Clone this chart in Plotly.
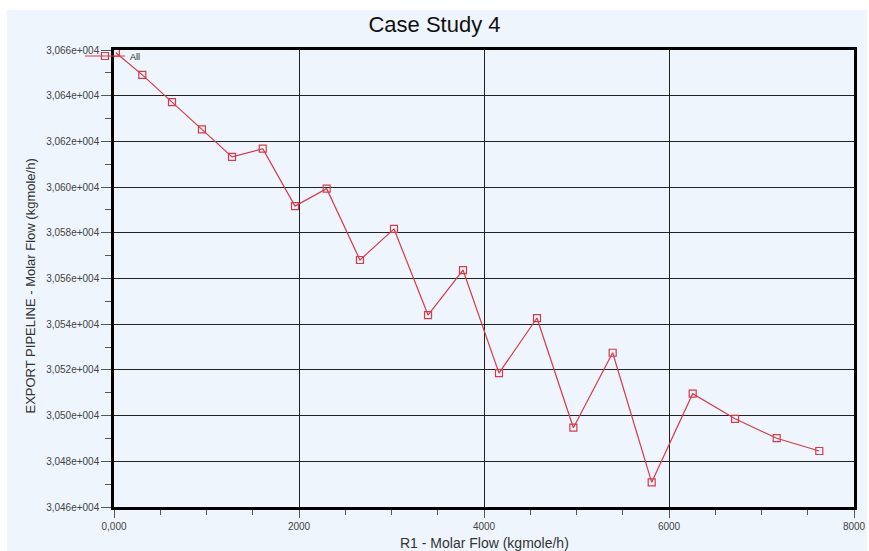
import plotly.graph_objects as go

# R1 molar flow (kgmole/h) and export pipeline molar flow (kgmole/h)
r1_flow = [20, 306, 627, 951, 1276, 1608, 1957, 2299, 2659, 3027, 3395,
           3773, 4162, 4573, 4966, 5391, 5813, 6256, 6714, 7164, 7625]
export_flow = [30658.8, 30649.1, 30637.2, 30625.3, 30613.2, 30616.8, 30591.7,
               30599.3, 30568.1, 30581.7, 30544.0, 30563.7, 30518.6, 30542.7,
               30494.7, 30527.5, 30470.8, 30509.6, 30498.6, 30490.1, 30484.5]

y_ticks = [30460, 30480, 30500, 30520, 30540, 30560, 30580, 30600, 30620, 30640, 30660]
y_ticktext = ["3,046e+004", "3,048e+004", "3,050e+004", "3,052e+004", "3,054e+004",
              "3,056e+004", "3,058e+004", "3,060e+004", "3,062e+004", "3,064e+004",
              "3,066e+004"]
x_ticks = [0, 2000, 4000, 6000, 8000]
x_ticktext = ["0,000", "2000", "4000", "6000", "8000"]

RED = "#DA3A48"
BG = "#EEF5FC"
FONT = "Liberation Sans, Arial"

L, R, T, B = 114, 15, 50, 44
PW, PH = 869 - L - R, 551 - T - B

fig = go.Figure()
fig.add_trace(go.Scatter(
    x=r1_flow, y=export_flow, name="All", mode="lines+markers",
    line=dict(color=RED, width=1.2),
    marker=dict(symbol="square-open", size=7, color=RED, line=dict(width=1.2)),
))

axis_common = dict(
    automargin=False,
    showline=True, linecolor="black", linewidth=2.5, mirror=True,
    showgrid=True, gridcolor="#222222", gridwidth=1.3,
    zeroline=False, ticks="outside", tickwidth=1.2, tickcolor="#555",
    tickfont=dict(family=FONT, size=10, color="#444"),
)

fig.update_xaxes(
    range=[0, 8000], tickvals=x_ticks, ticktext=x_ticktext, ticklen=8,
    minor=dict(dtick=500, ticks="outside", ticklen=5, tickcolor="#555", showgrid=False),
    **axis_common,
)
fig.update_yaxes(
    range=[30460, 30660], tickvals=y_ticks, ticktext=y_ticktext, ticklen=10,
    minor=dict(dtick=10, ticks="outside", ticklen=6, tickcolor="#555", showgrid=False),
    **axis_common,
)

fig.update_layout(
    width=869, height=551,
    margin=dict(l=L, r=R, t=T, b=B),
    paper_bgcolor="white", plot_bgcolor=BG,
    title=dict(text="Case Study 4", x=0.5, xanchor="center", y=0.955, yanchor="middle",
               font=dict(family=FONT, size=22, color="#111")),
    showlegend=True,
    legend=dict(x=-34 / PW, y=1 - 6 / PH, xanchor="left", yanchor="middle",
                bgcolor="rgba(0,0,0,0)", borderwidth=0,
                font=dict(family=FONT, size=9, color="#222"),
                itemwidth=40),
    annotations=[
        dict(text="R1 - Molar Flow (kgmole/h)", xref="paper", yref="paper",
             x=0.5, y=-36 / PH, xanchor="center", yanchor="middle", showarrow=False,
             font=dict(family=FONT, size=14, color="#333")),
        dict(text="EXPORT PIPELINE - Molar Flow (kgmole/h)", xref="paper", yref="paper",
             x=-84 / PW, y=0.5 - 8 / PH, xanchor="center", yanchor="middle", showarrow=False,
             textangle=-90, font=dict(family=FONT, size=13, color="#333")),
    ],
    shapes=[dict(type="rect", xref="paper", yref="paper", layer="below",
                 x0=-(L - 7) / PW, x1=1 + 13 / PW, y0=-B / PH, y1=1 + 40 / PH,
                 fillcolor=BG, line=dict(width=0))],
)

fig.write_html("out.html")
